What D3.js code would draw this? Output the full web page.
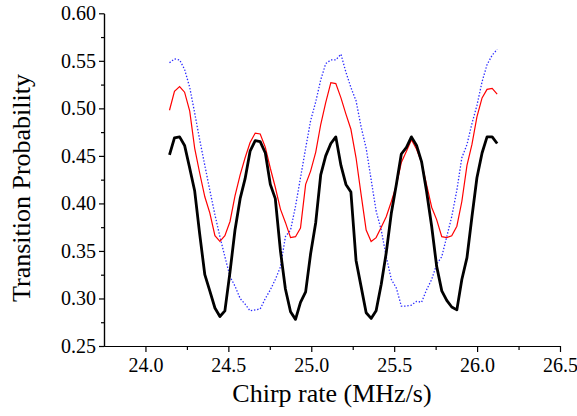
<!DOCTYPE html>
<html><head><meta charset="utf-8">
<script src="https://cdn.jsdelivr.net/npm/d3@7"></script>
<style>body{margin:0;background:#fff}svg{display:block}text{font-family:'Liberation Serif','Times New Roman',serif}</style>
</head><body>
<svg id="c" width="577" height="416"></svg>
<script>
const chirp = [24.145,24.175,24.206,24.236,24.267,24.297,24.327,24.358,24.388,24.419,24.449,24.479,24.510,24.540,24.571,24.601,24.631,24.662,24.692,24.723,24.753,24.783,24.814,24.844,24.875,24.905,24.935,24.966,24.996,25.027,25.057,25.087,25.118,25.148,25.179,25.209,25.239,25.270,25.300,25.331,25.361,25.391,25.422,25.452,25.483,25.513,25.543,25.574,25.604,25.635,25.665,25.695,25.726,25.756,25.787,25.817,25.847,25.878,25.908,25.939,25.969,25.999,26.030,26.060,26.091,26.121];
const blackSeries = [0.451,0.469,0.470,0.461,0.437,0.413,0.368,0.325,0.308,0.290,0.281,0.287,0.328,0.372,0.405,0.426,0.455,0.466,0.465,0.453,0.420,0.405,0.350,0.310,0.286,0.278,0.296,0.307,0.347,0.380,0.430,0.450,0.463,0.470,0.440,0.420,0.412,0.340,0.313,0.285,0.279,0.287,0.315,0.348,0.390,0.420,0.452,0.459,0.470,0.461,0.444,0.413,0.376,0.334,0.308,0.298,0.291,0.288,0.320,0.343,0.386,0.427,0.453,0.470,0.470,0.463];
const redSeries = [0.498,0.518,0.523,0.517,0.497,0.458,0.432,0.407,0.390,0.366,0.360,0.366,0.381,0.408,0.430,0.448,0.464,0.474,0.473,0.459,0.437,0.417,0.394,0.380,0.364,0.365,0.374,0.420,0.434,0.454,0.483,0.506,0.527,0.526,0.511,0.494,0.478,0.448,0.410,0.372,0.360,0.364,0.375,0.386,0.402,0.419,0.443,0.455,0.467,0.457,0.443,0.420,0.396,0.383,0.365,0.364,0.366,0.376,0.402,0.440,0.462,0.491,0.511,0.520,0.521,0.515];
const blueSeries = [0.548,0.552,0.551,0.541,0.522,0.495,0.467,0.440,0.414,0.388,0.365,0.344,0.323,0.313,0.300,0.294,0.287,0.288,0.289,0.300,0.309,0.320,0.333,0.365,0.372,0.397,0.427,0.458,0.487,0.507,0.530,0.547,0.551,0.551,0.557,0.538,0.522,0.508,0.481,0.458,0.425,0.392,0.372,0.344,0.320,0.311,0.292,0.292,0.293,0.297,0.296,0.309,0.320,0.336,0.344,0.365,0.386,0.414,0.448,0.462,0.484,0.503,0.528,0.546,0.556,0.562];
const xTicks = [24.0,24.5,25.0,25.5,26.0,26.5];
const xMinor = [24.25,24.75,25.25,25.75,26.25];
const yTicks = [0.25,0.30,0.35,0.40,0.45,0.50,0.55,0.60];
const yMinor = [0.275,0.325,0.375,0.425,0.475,0.525,0.575];

const svg = d3.select("#c");
const x = d3.scaleLinear().domain([23.75,26.5]).range([104,560]);
const y = d3.scaleLinear().domain([0.25,0.60]).range([346,13.3]);
const font = "'Liberation Serif','Times New Roman',serif";

const xa = svg.append("g").attr("transform","translate(0,346)")
  .call(d3.axisBottom(x).tickValues(xTicks).tickFormat(d3.format(".1f")).tickSize(6).tickSizeOuter(0));
svg.append("g").attr("transform","translate(0,346)")
  .call(d3.axisBottom(x).tickValues(xMinor).tickFormat("").tickSize(4).tickSizeOuter(0));
const ya = svg.append("g").attr("transform","translate(104,0)")
  .call(d3.axisLeft(y).tickValues(yTicks).tickFormat(d3.format(".2f")).tickSize(5).tickSizeOuter(0));
svg.append("g").attr("transform","translate(104,0)")
  .call(d3.axisLeft(y).tickValues(yMinor).tickFormat("").tickSize(3).tickSizeOuter(0));
svg.selectAll("g").attr("font-family",font);
svg.selectAll(".domain, .tick line").attr("stroke","#000").attr("stroke-width",1.2);
svg.selectAll(".tick text").style("font-family",font).attr("font-size",20).attr("fill","#000");
xa.selectAll(".tick text").attr("dy","0.85em");
ya.selectAll(".tick text").attr("x",-8);

const line = vals => d3.line().x((d,i)=>x(chirp[i])).y(d=>y(d))(vals);
svg.append("path").attr("d",line(blueSeries)).attr("fill","none")
  .attr("stroke","#2a2aff").attr("stroke-width",1.3).attr("stroke-dasharray","1.4 1.8");
svg.append("path").attr("d",line(redSeries)).attr("fill","none")
  .attr("stroke","#ff0000").attr("stroke-width",1.2);
svg.append("path").attr("d",line(blackSeries)).attr("fill","none")
  .attr("stroke","#000").attr("stroke-width",2.8).attr("stroke-linejoin","round");

svg.append("text").attr("x",332).attr("y",402).attr("text-anchor","middle")
  .style("font-family",font).attr("font-size",26).text("Chirp rate (MHz/s)");
svg.append("text").attr("transform","translate(30,188) rotate(-90)").attr("text-anchor","middle")
  .style("font-family",font).attr("font-size",26).text("Transition Probability");
</script>
</body></html>
